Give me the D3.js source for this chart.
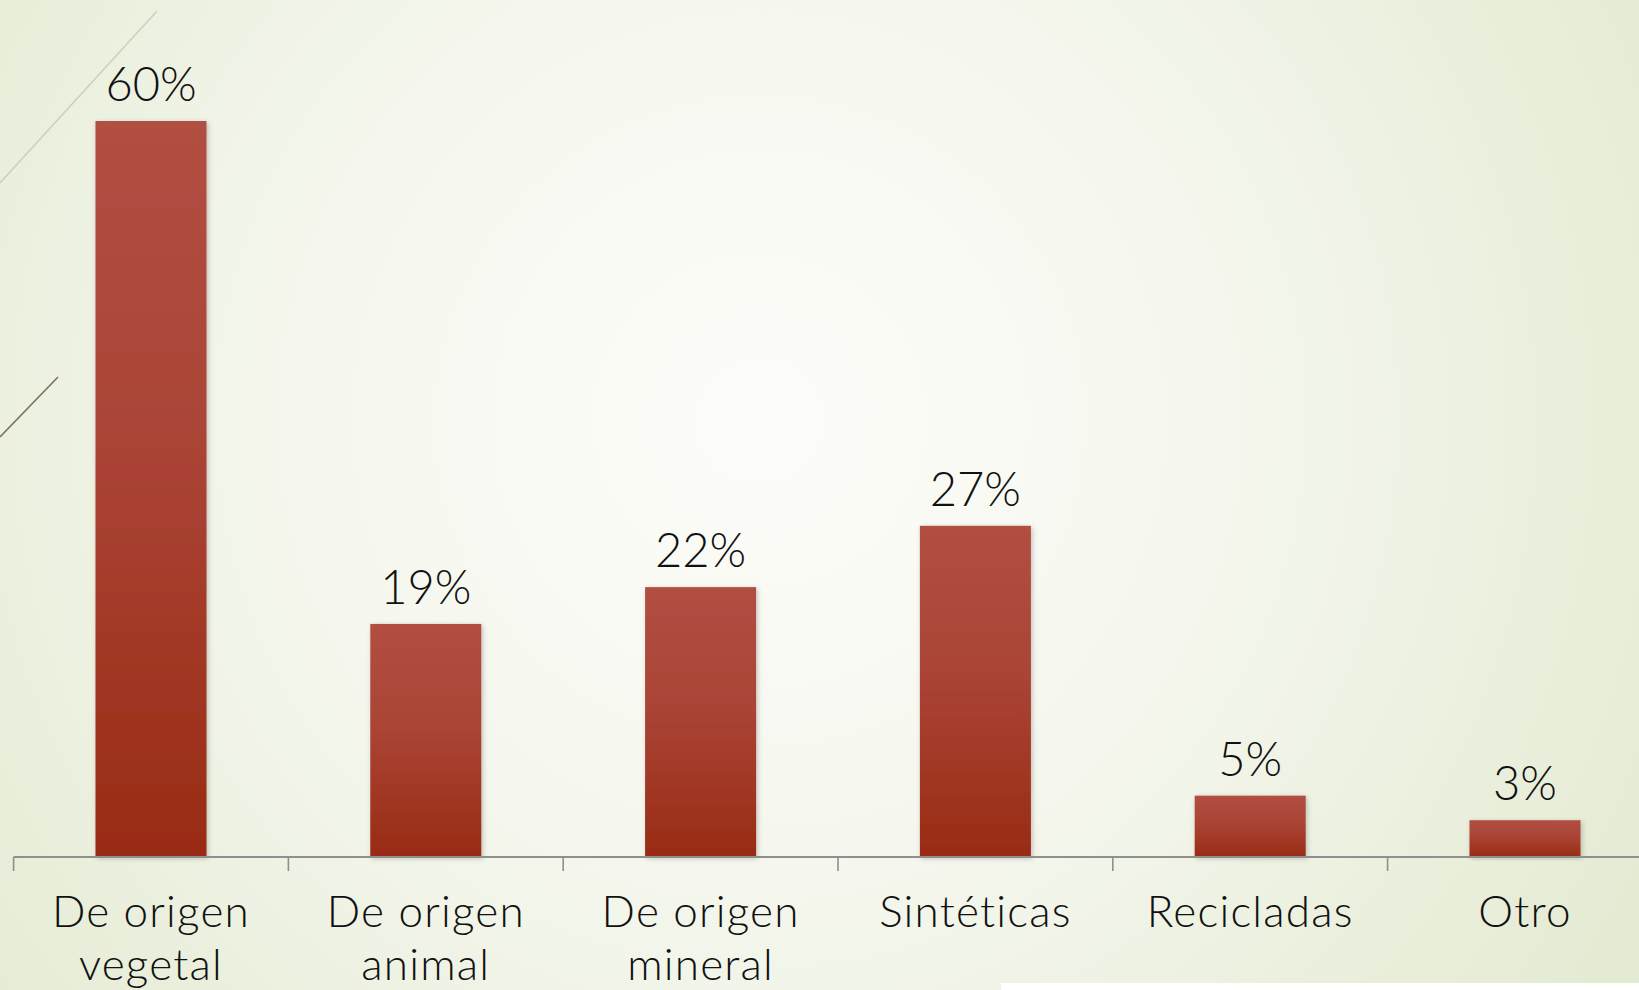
<!DOCTYPE html>
<html lang="es">
<head>
<meta charset="utf-8">
<script src="https://cdn.jsdelivr.net/npm/d3@7"></script>
<style>
  html, body { margin: 0; padding: 0; background: #eef2e3; }
  svg { display: block; }
</style>
</head>
<body>
<svg id="chart" width="1639" height="990"></svg>
<script>
// Fibras por origen (% de respuestas)
const categories = [
  ["De origen", "vegetal"],
  ["De origen", "animal"],
  ["De origen", "mineral"],
  ["Sintéticas"],
  ["Recicladas"],
  ["Otro"]
];
const values = [60, 19, 22, 27, 5, 3];
const valueLabels = ["60%", "19%", "22%", "27%", "5%", "3%"];

const W = 1639, H = 990;
const svg = d3.select("#chart");
const defs = svg.append("defs");

// Slide background: soft cream centre fading to pale green edges
const bg = defs.append("radialGradient")
  .attr("id", "bg").attr("gradientUnits", "userSpaceOnUse")
  .attr("cx", 760).attr("cy", 420).attr("r", 1000);
bg.append("stop").attr("offset", 0).attr("stop-color", "#fcfdf9");
bg.append("stop").attr("offset", 0.45).attr("stop-color", "#f5f7ee");
bg.append("stop").attr("offset", 1).attr("stop-color", "#e4ebd3");

// Bar fill: lighter brick red at the top, deeper rust at the base
const barGrad = defs.append("linearGradient")
  .attr("id", "barGrad").attr("x1", 0).attr("y1", 0).attr("x2", 0).attr("y2", 1);
barGrad.append("stop").attr("offset", 0).attr("stop-color", "#b14f42");
barGrad.append("stop").attr("offset", 0.45).attr("stop-color", "#aa4436");
barGrad.append("stop").attr("offset", 1).attr("stop-color", "#992b13");

const shadow = defs.append("filter").attr("id", "shadow")
  .attr("x", "-20%").attr("y", "-5%").attr("width", "140%").attr("height", "115%");
shadow.append("feDropShadow")
  .attr("dx", 1.5).attr("dy", 1.5).attr("stdDeviation", 2.5)
  .attr("flood-color", "#000").attr("flood-opacity", 0.22);

svg.append("rect").attr("width", W).attr("height", H).attr("fill", "url(#bg)");

// Theme accent strokes in the upper-left corner
svg.append("line")
  .attr("x1", 0).attr("y1", 183).attr("x2", 157).attr("y2", 11)
  .attr("stroke", "#cdd0bd").attr("stroke-width", 1.6);
svg.append("line")
  .attr("x1", 0).attr("y1", 437).attr("x2", 58).attr("y2", 377)
  .attr("stroke", "#7d7261").attr("stroke-width", 1.6);

// Scales
const axisY = 857;
const x = d3.scaleBand()
  .domain(d3.range(categories.length))
  .range([13.6, 13.6 + 274.8 * categories.length])
  .padding(0);
const y = d3.scaleLinear().domain([0, 60]).range([axisY, 121]);
const barW = x.bandwidth() * 0.404;

// Bars
svg.append("g").selectAll("rect")
  .data(values)
  .join("rect")
  .attr("x", (d, i) => x(i) + (x.bandwidth() - barW) / 2)
  .attr("y", d => y(d))
  .attr("width", barW)
  .attr("height", d => axisY - y(d))
  .attr("fill", "url(#barGrad)")
  .attr("filter", "url(#shadow)");

// Category axis with ticks at band boundaries
const axisG = svg.append("g");
axisG.append("line")
  .attr("x1", x.range()[0]).attr("x2", W)
  .attr("y1", axisY).attr("y2", axisY)
  .attr("stroke", "#8f8f8f").attr("stroke-width", 2);
axisG.selectAll("line.tick")
  .data(d3.range(categories.length + 1))
  .join("line").attr("class", "tick")
  .attr("x1", i => x.range()[0] + i * x.step())
  .attr("x2", i => x.range()[0] + i * x.step())
  .attr("y1", axisY).attr("y2", axisY + 14)
  .attr("stroke", "#8f8f8f").attr("stroke-width", 1.6);

const font = "Lato, 'Noto Sans', sans-serif";

// Category labels (one or two lines)
svg.append("g").selectAll("text")
  .data(categories)
  .join("text")
  .attr("x", (d, i) => x(i) + x.bandwidth() / 2)
  .attr("y", 927)
  .attr("text-anchor", "middle")
  .attr("font-family", font)
  .attr("font-weight", 300)
  .attr("font-size", 44)
  .attr("letter-spacing", 1.2)
  .attr("fill", "#111")
  .selectAll("tspan")
  .data(d => d)
  .join("tspan")
  .attr("x", function () { return this.parentNode.getAttribute("x"); })
  .attr("dy", (d, j) => j === 0 ? 0 : 53)
  .text(d => d);

// Value labels above bars
svg.append("g").selectAll("text")
  .data(values)
  .join("text")
  .attr("x", (d, i) => x(i) + x.bandwidth() / 2)
  .attr("y", d => y(d) - 20)
  .attr("text-anchor", "middle")
  .attr("font-family", font)
  .attr("font-weight", 300)
  .attr("font-size", 47)
  .attr("fill", "#111")
  .text((d, i) => valueLabels[i]);

// White strip along the bottom-right edge
svg.append("rect")
  .attr("x", 1001).attr("y", 983).attr("width", W - 1001).attr("height", H - 983)
  .attr("fill", "#ffffff");
</script>
</body>
</html>
